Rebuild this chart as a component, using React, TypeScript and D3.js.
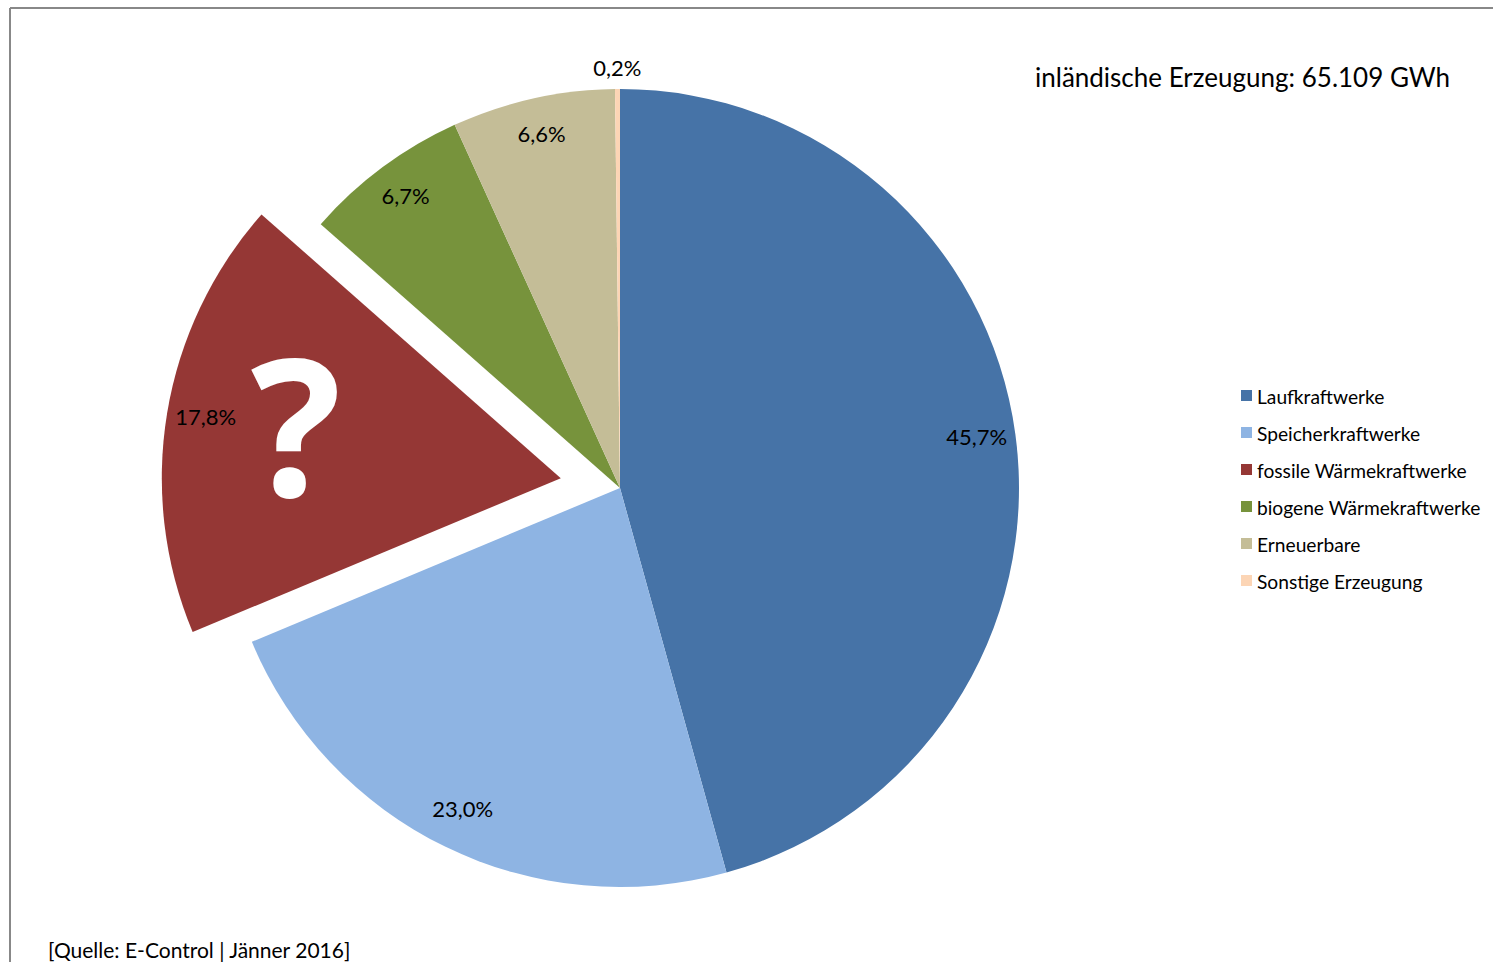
import React from "react";
import * as d3 from "d3";

const categories = [
  "Laufkraftwerke",
  "Speicherkraftwerke",
  "fossile Wärmekraftwerke",
  "biogene Wärmekraftwerke",
  "Erneuerbare",
  "Sonstige Erzeugung",
];
const shares = [45.7, 23.0, 17.8, 6.7, 6.6, 0.2];
const labels = ["45,7%", "23,0%", "17,8%", "6,7%", "6,6%", "0,2%"];
const colors = ["#4673A7", "#8EB4E3", "#953735", "#77933C", "#C4BD97", "#FCD5B5"];
const exploded = [false, false, true, false, false, false];
const outsideLabel = [false, false, false, false, false, true];

const title = "inländische Erzeugung: 65.109 GWh";
const source = "[Quelle: E-Control | Jänner 2016]";

const W = 1493;
const H = 962;
const FONT = "Lato, 'Open Sans', sans-serif";

export default function App() {
  const cx = 620;
  const cy = 488;
  const R = 399;
  const explodeDist = 60;
  const labelR = 360;
  const outsideR = 418;

  const pie = d3
    .pie<number>()
    .value((d) => d)
    .sort(null)
    .startAngle(0)
    .endAngle(2 * Math.PI);
  const arcs = pie(shares);
  const arc = d3.arc<d3.PieArcDatum<number>>().innerRadius(0).outerRadius(R);

  return (
    <svg
      width={W}
      height={H}
      style={{ position: "absolute", left: 0, top: 0, background: "#fff" }}
      fontFamily={FONT}
    >
      <rect x={0} y={0} width={W} height={H} fill="#fff" />
      <line x1={10} y1={8} x2={W} y2={8} stroke="#888" strokeWidth={2} />
      <line x1={10} y1={8} x2={10} y2={H} stroke="#888" strokeWidth={2} />
      {arcs.map((a, i) => {
        const mid = (a.startAngle + a.endAngle) / 2;
        const dx = exploded[i] ? Math.sin(mid) * explodeDist : 0;
        const dy = exploded[i] ? -Math.cos(mid) * explodeDist : 0;
        const lr = outsideLabel[i] ? outsideR : labelR;
        const lx = dx + Math.sin(mid) * lr;
        const ly = dy - Math.cos(mid) * lr;
        return (
          <g key={categories[i]} transform={`translate(${cx},${cy})`}>
            <path d={arc(a) || ""} fill={colors[i]} transform={`translate(${dx},${dy})`} />
            <text
              x={lx}
              y={ly - 3}
              textAnchor="middle"
              dominantBaseline="central"
              fontSize={22}
              fill="#000"
            >
              {labels[i]}
            </text>
          </g>
        );
      })}
      <text
        x={296}
        y={496}
        textAnchor="middle"
        fontSize={190}
        fontWeight="bold"
        fill="#fff"
        fontFamily="'Open Sans', sans-serif"
      >
        ?
      </text>
      <text x={1035} y={87} fontSize={26} fill="#000">
        {title}
      </text>
      {categories.map((c, i) => (
        <g key={c} transform={`translate(1241,${396 + i * 37})`}>
          <rect x={0} y={-6} width={11} height={11} fill={colors[i]} />
          <text x={16} y={0} dominantBaseline="central" fontSize={19.2} fill="#000">
            {c}
          </text>
        </g>
      ))}
      <text x={48} y={958} fontSize={21} fill="#000">
        {source}
      </text>
    </svg>
  );
}
